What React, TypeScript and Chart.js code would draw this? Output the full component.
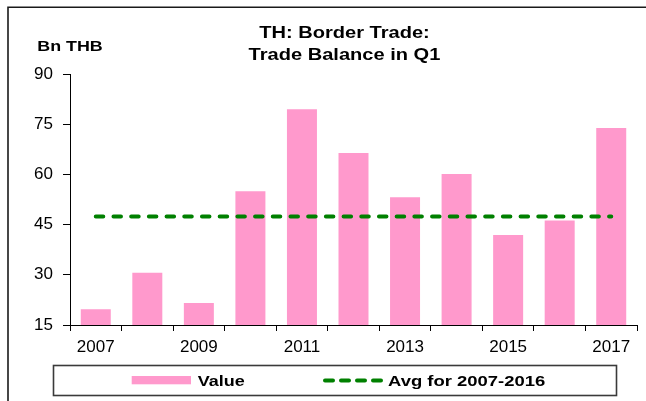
import React, { useEffect, useRef } from "react";
import { Chart, registerables } from "chart.js";

Chart.register(...registerables);

const years = ["2007", "2008", "2009", "2010", "2011", "2012", "2013", "2014", "2015", "2016", "2017"];
const tradeBalance = [19.7, 30.6, 21.6, 55.0, 79.5, 66.4, 53.2, 60.1, 41.9, 46.2, 73.9];
const avg2007to2016 = [47.4, 47.4, 47.4, 47.4, 47.4, 47.4, 47.4, 47.4, 47.4, 47.4, 47.4];
const yTicks = { min: 15, max: 90, step: 15 };
const titleLines = ["TH: Border Trade:", "Trade Balance in Q1"];
const unitLabel = "Bn THB";
const seriesNames = ["Value", "Avg for 2007-2016"];

const PINK = "#FF99CC";
const GREEN = "#008000";
const FONT = "'Liberation Sans', Arial, Helvetica, sans-serif";

function drawText(
  ctx: CanvasRenderingContext2D,
  text: string,
  x: number,
  y: number,
  font: string,
  sx: number,
  align: "left" | "center"
) {
  ctx.save();
  ctx.font = font;
  const w = ctx.measureText(text).width * sx;
  const left = align === "center" ? x - w / 2 : x;
  ctx.translate(left, y);
  ctx.scale(sx, 1);
  ctx.textAlign = "left";
  ctx.textBaseline = "alphabetic";
  ctx.fillStyle = "#000";
  ctx.fillText(text, 0, 0);
  ctx.restore();
}

const decorPlugin = {
  id: "decor",
  beforeDraw(chart: any) {
    const ctx = chart.ctx as CanvasRenderingContext2D;
    ctx.save();
    ctx.fillStyle = "#fff";
    ctx.fillRect(0, 0, chart.width, chart.height);
    ctx.restore();
  },
  afterDraw(chart: any) {
    const ctx = chart.ctx as CanvasRenderingContext2D;
    // outer frame (top and left edges)
    ctx.save();
    ctx.strokeStyle = "#1a1a1a";
    ctx.lineWidth = 1.6;
    ctx.beginPath();
    ctx.moveTo(646, 7.3);
    ctx.lineTo(8, 7.3);
    ctx.lineTo(8, 401);
    ctx.stroke();
    ctx.restore();

    // title
    const tFont = `bold 17px ${FONT}`;
    drawText(ctx, titleLines[0], 344.5, 38, tFont, 1.18, "center");
    drawText(ctx, titleLines[1], 344.5, 60, tFont, 1.18, "center");
    // unit label
    drawText(ctx, unitLabel, 37.3, 50.7, `bold 15px ${FONT}`, 1.19, "left");

    // legend box
    ctx.save();
    ctx.strokeStyle = "#3a3a3a";
    ctx.lineWidth = 1.6;
    ctx.strokeRect(53.5, 365.5, 563, 30);
    ctx.fillStyle = PINK;
    ctx.fillRect(131.7, 376, 59.3, 8.3);
    ctx.strokeStyle = GREEN;
    ctx.lineWidth = 4;
    ctx.lineCap = "round";
    ctx.setLineDash([8, 8]);
    ctx.beginPath();
    ctx.moveTo(325, 380.5);
    ctx.lineTo(381, 380.5);
    ctx.stroke();
    ctx.restore();

    const lFont = `bold 15.5px ${FONT}`;
    drawText(ctx, seriesNames[0], 197.7, 386, lFont, 1.16, "left");
    drawText(ctx, seriesNames[1], 388, 386, lFont, 1.19, "left");
  },
};

export default function App() {
  const ref = useRef<HTMLCanvasElement | null>(null);

  useEffect(() => {
    if (!ref.current) return;
    const chart = new Chart(ref.current, {
      type: "bar",
      data: {
        labels: years,
        datasets: [
          {
            type: "line",
            label: seriesNames[1],
            data: avg2007to2016,
            borderColor: GREEN,
            borderWidth: 4,
            borderDash: [7.5, 10.2],
            borderCapStyle: "round",
            pointRadius: 0,
            fill: false,
            order: 0,
          } as any,
          {
            type: "bar",
            label: seriesNames[0],
            data: tradeBalance,
            backgroundColor: PINK,
            borderWidth: 0,
            barPercentage: 0.582,
            categoryPercentage: 1,
            order: 1,
          },
        ],
      },
      options: {
        responsive: false,
        animation: false,
        devicePixelRatio: 1,
        layout: { padding: { left: 0, right: 9, top: 74, bottom: 36 } },
        plugins: {
          legend: { display: false },
          title: { display: false },
          tooltip: { enabled: false },
        },
        font: { family: FONT },
        scales: {
          x: {
            offset: true,
            afterFit: (s: any) => {
              s.height = 40;
            },
            grid: {
              display: true,
              offset: true,
              drawOnChartArea: false,
              drawTicks: true,
              tickLength: 6,
              color: "#000",
              lineWidth: 1,
            },
            border: { display: true, color: "#000", width: 1 },
            ticks: {
              autoSkip: false,
              maxRotation: 0,
              minRotation: 0,
              padding: 6,
              color: "#000",
              font: { family: FONT, size: 17 },
              callback: (_v: any, i: number) => (i % 2 === 0 ? years[i] : ""),
            },
          },
          y: {
            min: yTicks.min,
            max: yTicks.max,
            afterFit: (s: any) => {
              s.width = 70;
            },
            grid: {
              display: true,
              drawOnChartArea: false,
              drawTicks: true,
              tickLength: 7,
              color: "#000",
              lineWidth: 1,
            },
            border: { display: true, color: "#000", width: 1 },
            ticks: {
              stepSize: yTicks.step,
              padding: 10,
              color: "#000",
              font: { family: FONT, size: 17 },
            },
          },
        },
      } as any,
      plugins: [decorPlugin],
    });
    return () => chart.destroy();
  }, []);

  return (
    <div style={{ position: "absolute", left: 0, top: 0, width: 646, height: 401, background: "#fff" }}>
      <canvas ref={ref} width={646} height={401} style={{ display: "block", width: 646, height: 401 }} />
    </div>
  );
}
